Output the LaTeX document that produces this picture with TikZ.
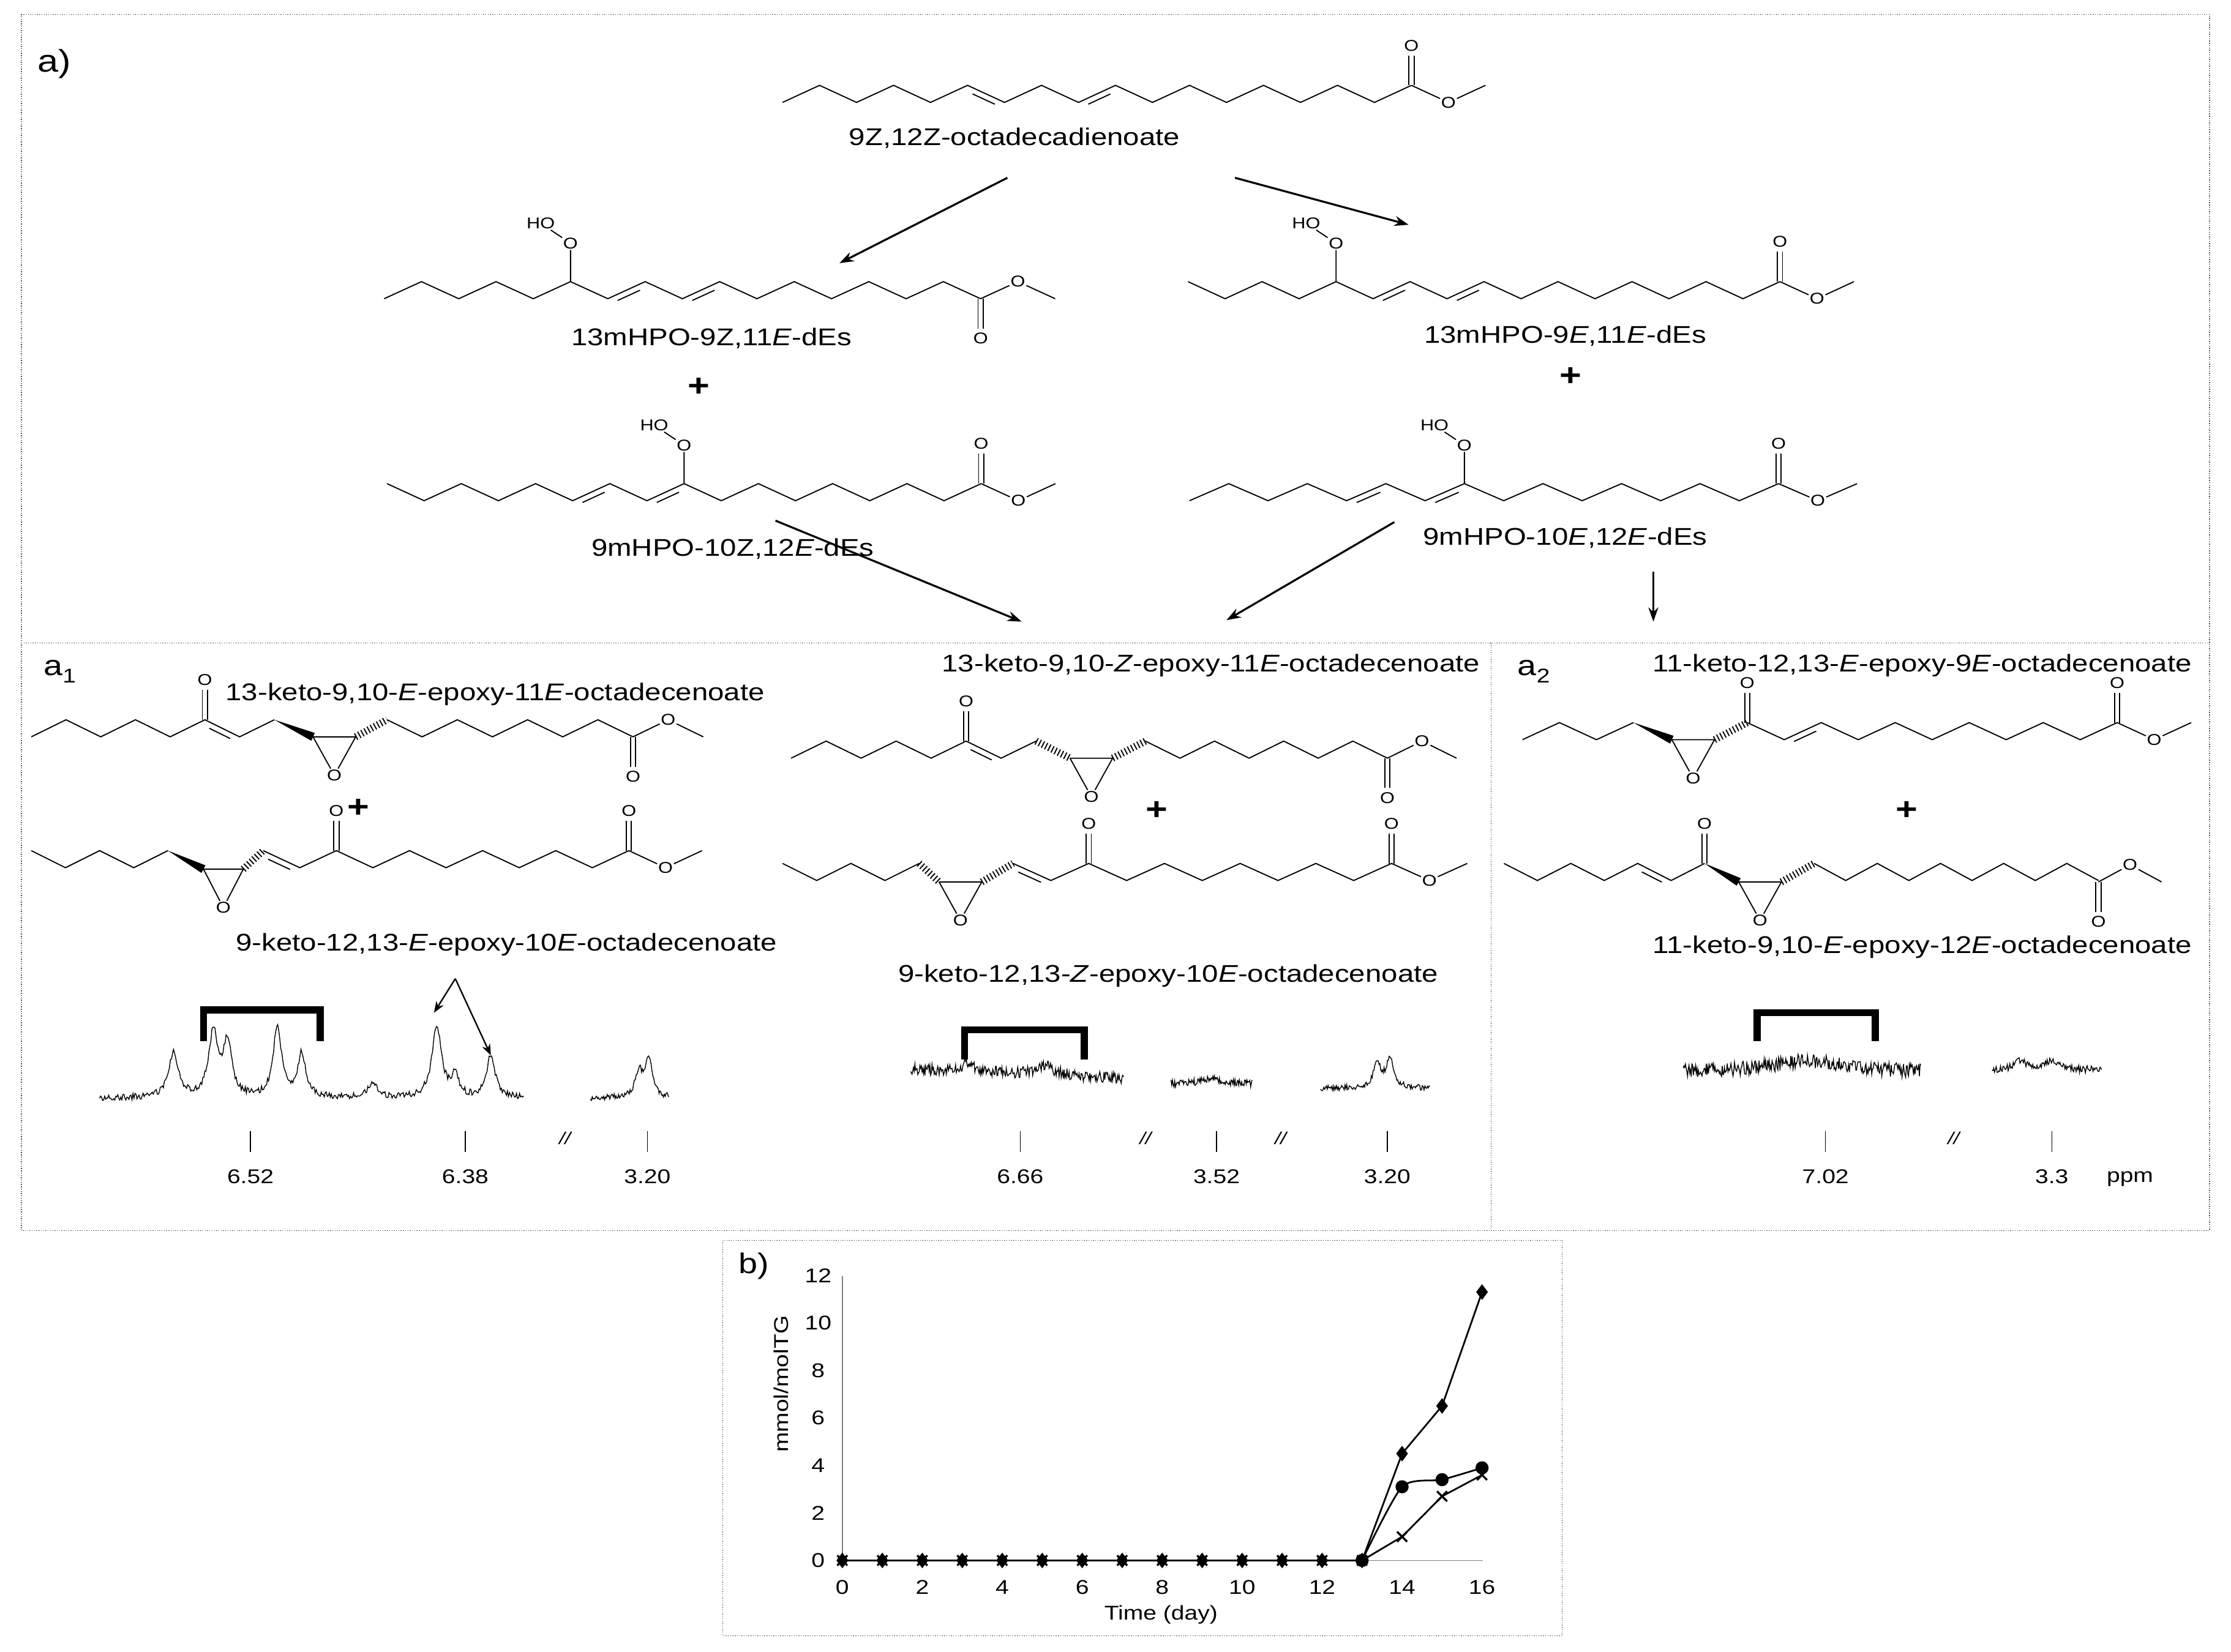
\documentclass[tikz,border=0pt]{standalone}
\usepackage{fontspec}
\setmainfont{Liberation Sans}[FakeStretch=1.2]
\usetikzlibrary{calc,arrows.meta,plotmarks}
\newcommand\zig[5]{\draw[bond] plot[samples at={0,...,#3}] ({#1+#5*\x},{#2+#4*12*mod(round(\x),2)});}
\newcommand\dbk[6]{\pgfmathsetmacro\ax{#1+#4*#5}\pgfmathsetmacro\ay{#2+#3*12*mod(#5,2)}%
 \pgfmathsetmacro\bx{#1+#4*(#5+1)}\pgfmathsetmacro\by{#2+#3*12*mod(#5+1,2)}\pgfmathsetmacro\angb{-(#6)}%
 \draw[bond] ($(\ax,\ay)!.2!(\bx,\by)!4pt!#6:(\bx,\by)$)--($(\bx,\by)!.2!(\ax,\ay)!4pt!\angb:(\ax,\ay)$);}
\newcommand\ester[4]{%
 \draw[bond] ({#1-1.8},{#2}) -- ({#1-1.8},{#2+#3*21}) ({#1+1.8},{#2})--({#1+1.8},{#2+#3*21});
 \node[atom] at ({#1},{#2+#3*28}) {O};
 \node[atom] (eo) at ({#1+#4},{#2-#3*12}) {O};
 \draw[bond] ({#1},{#2}) -- (eo) -- ({#1+2*#4},{#2});}
\newcommand\ooh[2]{\node[atom] (oo) at ({#1},{#2-27}) {O};\node[atom] (ho) at ({#1-21},{#2-41}) {HO};
 \draw[bond] ({#1},{#2}) -- (oo) -- (ho);}
\newcommand\keto[2]{\draw[bond] ({#1-1.8},{#2}) -- ({#1-1.8},{#2-21}) ({#1+1.8},{#2})--({#1+1.8},{#2-21});
 \node[atom] at ({#1},{#2-28}) {O};}
\newcommand\epox[3]{\node[atom] (eox) at ({#1+#3/2},{#2+27}) {O};
 \draw[bond] ({#1},{#2}) -- ({#1+#3},{#2}) -- (eox) -- ({#1},{#2});}
\newcommand\wdg[4]{\fill ({#1},{#2}) -- ($({#3},{#4})!3pt!90:({#1},{#2})$) -- ($({#3},{#4})!3pt!-90:({#1},{#2})$) -- cycle;}
\newcommand\hsh[4]{\draw[line width=5pt,dash pattern=on 0.8pt off 1.7pt] ({#1},{#2})--({#3},{#4});}
\newcommand\tick[2]{\draw[line width=0.6pt] ({#1},795)--({#1},810); \node[tk] at ({#1},{827}) {#2};}
\newcommand\brkm[1]{\node[font=\fontsize{12}{12}\selectfont\itshape] at (#1,800) {//};}
\begin{document}
\begin{tikzpicture}[x=1pt,y=-1pt,
 bond/.style={line width=0.8pt},
 lab/.style={font=\fontsize{17}{18}\selectfont,inner sep=0},
 atom/.style={font=\fontsize{11}{12}\selectfont,inner sep=0.6pt,fill=white},
 tk/.style={font=\fontsize{14}{15}\selectfont},
 plus/.style={font=\fontsize{22}{22}\selectfont\bfseries},
 box/.style={densely dotted,line width=0.6pt,black!70},
 rx/.style={-{Stealth[length=10pt,width=7pt]},line width=1.4pt},
 brk/.style={line width=5pt},
 spec/.style={line width=0.6pt},
 declare function={L(\t,\c,\w,\h)=\h/(1+((\t-\c)/\w)^2);}]
\useasboundingbox (0,0) rectangle (1568,1161);
\pgfmathsetseed{7}
% boxes
\draw[box] (15,10) rectangle (1553,865);
\draw[box] (15,452) -- (1553,452);
\draw[box] (1048,452) -- (1048,865);
\draw[box] (508,872) rectangle (1098,1150);
\node[font=\fontsize{22}{22}\selectfont] (la) at (38,45) {a)};
\node[font=\fontsize{20}{20}\selectfont] (la1) at (42,472) {a\raisebox{-5pt}{\fontsize{14}{14}\selectfont 1}};
\node[font=\fontsize{20}{20}\selectfont] (la2) at (1078,472) {a\raisebox{-5pt}{\fontsize{14}{14}\selectfont 2}};
\node[font=\fontsize{20}{20}\selectfont] (lb) at (530,890) {b)};
% M0
\zig{550}{72}{17}{-1}{26}\dbk{550}{72}{-1}{26}{5}{-90}\dbk{550}{72}{-1}{26}{8}{-90}
\ester{992}{60}{-1}{26}
\node[lab] (n0) at (713,97) {9Z,12Z-octadecadienoate};
% M1
\zig{270}{210}{16}{-1}{26.2}\dbk{270}{210}{-1}{26.2}{6}{-90}\dbk{270}{210}{-1}{26.2}{8}{-90}
\ester{689.2}{210}{1}{26.2}\ooh{401}{198}
\node[lab] (n1) at (500,238) {13mHPO-9Z,11\textit{E}-dEs};
\node[plus] (p1) at (491,272) {+};
% M2
\zig{272}{340}{16}{1}{26.1}\dbk{272}{340}{1}{26.1}{5}{-90}\dbk{272}{340}{1}{26.1}{7}{-90}
\ester{689.6}{340}{-1}{26.1}\ooh{480.8}{340}
\node[lab] (n2) at (515,386) {9mHPO-10Z,12\textit{E}-dEs};
% M3
\zig{835}{198}{16}{1}{26}\dbk{835}{198}{1}{26}{5}{-90}\dbk{835}{198}{1}{26}{7}{-90}
\ester{1251}{198}{-1}{26}\ooh{939}{198}
\node[lab] (n3) at (1100,236) {13mHPO-9\textit{E},11\textit{E}-dEs};
\node[plus] (p2) at (1104,265) {+};
% M4
\zig{836}{352}{15}{-1}{27.6}\dbk{836}{352}{-1}{27.6}{4}{-90}\dbk{836}{352}{-1}{27.6}{6}{-90}
\ester{1250}{340}{-1}{27.6}\ooh{1029.2}{340}
\node[lab] (n4) at (1100,378) {9mHPO-10\textit{E},12\textit{E}-dEs};
% arrows
\coordinate (a1s) at (708,125); \coordinate (a1e) at (590,185);
\coordinate (a2s) at (868,125); \coordinate (a2e) at (990,158);
\coordinate (a3s) at (545,366); \coordinate (a3e) at (718,437);
\coordinate (a4s) at (980,367); \coordinate (a4e) at (862,436);
\coordinate (a5s) at (1162,402); \coordinate (a5e) at (1162,437);
\draw[rx] (a1s)--(a1e); \draw[rx] (a2s)--(a2e); \draw[rx] (a3s)--(a3e);
\draw[rx] (a4s)--(a4e); \draw[rx] (a5s)--(a5e);
% M5
\zig{22}{518}{7}{-1}{24.4}\dbk{22}{518}{-1}{24.4}{5}{-90}\keto{144}{506}
\wdg{192.8}{506}{220}{518}\epox{220}{518}{30}\hsh{250}{518}{272}{506}
\zig{272}{506}{7}{1}{24.7}\ester{444.9}{518}{1}{24.7}
\node[lab] (n5) at (348,488) {13-keto-9,10-\textit{E}-epoxy-11\textit{E}-octadecenoate};
\node[plus] (p3) at (252,568) {+};
% M6
\zig{22}{598}{4}{1}{24}\wdg{118}{598}{143}{611}\epox{143}{611}{28}\hsh{171}{611}{185}{598}
\zig{185}{598}{10}{1}{25.7}\dbk{185}{598}{1}{25.7}{0}{-90}\keto{236.4}{598}
\ester{442}{598}{-1}{25.7}
\node[lab] (n6) at (356,664) {9-keto-12,13-\textit{E}-epoxy-10\textit{E}-octadecenoate};
% M7
\zig{556}{533}{7}{-1}{24.6}\dbk{556}{533}{-1}{24.6}{5}{-90}\keto{679}{521}
\hsh{728.2}{521}{752}{533}\epox{752}{533}{30}\hsh{782}{533}{805}{521}
\zig{805}{521}{7}{1}{24.3}\ester{975.1}{533}{1}{24.3}
\node[lab] (n7) at (851,468) {13-keto-9,10-\textit{Z}-epoxy-11\textit{E}-octadecenoate};
\node[plus] (p4) at (813,570) {+};
% M8
\zig{550}{607}{4}{1}{24}\hsh{646}{607}{660}{620}\epox{660}{620}{30}\hsh{690}{620}{712}{607}
\zig{712}{607}{10}{1}{26.6}\dbk{712}{607}{1}{26.6}{0}{-90}\keto{765.2}{607}
\ester{978}{607}{-1}{26.6}
\node[lab] (n8) at (821,686) {9-keto-12,13-\textit{Z}-epoxy-10\textit{E}-octadecenoate};
% M9
\zig{1070}{520}{3}{-1}{26}\wdg{1148}{508}{1175}{520}\epox{1175}{520}{30}\hsh{1205}{520}{1228}{508}
\keto{1228}{508}\zig{1228}{508}{10}{1}{26}\dbk{1228}{508}{1}{26}{1}{-90}
\ester{1488}{508}{-1}{26}
\node[lab] (n9) at (1351,468) {11-keto-12,13-\textit{E}-epoxy-9\textit{E}-octadecenoate};
\node[plus] (p5) at (1340,570) {+};
% M10
\zig{1057}{607}{6}{1}{23.5}\dbk{1057}{607}{1}{23.5}{4}{-90}\keto{1198}{607}
\wdg{1198}{607}{1222}{620}\epox{1222}{620}{30}\hsh{1252}{620}{1275}{607}
\zig{1275}{607}{9}{1}{22.2}\ester{1474.8}{620}{1}{22.2}
\node[lab] (n10) at (1351,666) {11-keto-9,10-\textit{E}-epoxy-12\textit{E}-octadecenoate};
% spectra a1
\draw[brk] (143,732)--(143,710)--(225,710)--(225,732);
\draw[spec] plot[domain=70:368,samples=420] (\x,{772-L(\x,122,4,32)-L(\x,150,4,45)-L(\x,160,3.5,38)-L(\x,195,3.5,50)-L(\x,212,3.5,30)-L(\x,262,4,10)-L(\x,307,4,50)-L(\x,320,3,15)-L(\x,345,3.5,30)+2.2*rand});
\draw[spec] plot[domain=415:470,samples=90] (\x,{772-L(\x,449,3,18)-L(\x,456,3,28)+2*rand});
\coordinate (ar0) at (320,688); \coordinate (ar1) at (305,712); \coordinate (ar2) at (345,742);
\draw[-{Stealth[length=8pt,width=6pt]},line width=1pt] (ar0)--(ar1);
\draw[-{Stealth[length=8pt,width=6pt]},line width=1pt] (ar0)--(ar2);
\tick{176}{6.52}
\tick{327}{6.38}
\tick{455}{3.20}
\brkm{397}
% spectra middle
\draw[brk] (678,745)--(678,724)--(762,724)--(762,745);
\draw[spec] plot[domain=640:790,samples=300] (\x,{752+0.04*(\x-640)-L(\x,680,6,6)-L(\x,735,8,6)+4*rand});
\draw[spec] plot[domain=823:880,samples=110] (\x,{762-L(\x,852,8,4)+2.5*rand});
\draw[spec] plot[domain=928:1005,samples=130] (\x,{765-L(\x,968,3,18)-L(\x,977,3,22)+2*rand});
\tick{717}{6.66}
\tick{855}{3.52}
\tick{975}{3.20}
\brkm{805}
\brkm{900}
% spectra a2
\draw[brk] (1235,732)--(1235,712)--(1318,712)--(1318,732);
\draw[spec] plot[domain=1183:1350,samples=330] (\x,{754-L(\x,1270,35,8)+5*rand});
\draw[spec] plot[domain=1400:1477,samples=130] (\x,{752-L(\x,1420,5,6)-L(\x,1442,5,6)+2.5*rand});
\tick{1283}{7.02}
\tick{1442}{3.3}
\brkm{1373}
\node[tk] (ppm) at (1497,829) {ppm};
% graph b
\draw[black!50,line width=0.6pt] (592,897)--(592,1097)--(1042,1097);
\foreach \d in {0,2,...,16}{\node[tk] at ({592+28.1*\d},1116) {\d};}
\foreach \v in {0,2,...,12}{\node[tk] at (575,{1097-16.7*\v}) {\v};}
\node[tk,rotate=90] (yl) at (549,973) {mmol/molTG};
\node[tk] (xl) at (816,1135) {Time (day)};
\draw[line width=1.2pt] plot[mark=diamond*,mark size=4.5pt] coordinates {(592,1097)(620.1,1097)(648.2,1097)(676.3,1097)(704.4,1097)(732.5,1097)(760.6,1097)(788.7,1097)(816.8,1097)(844.9,1097)(873,1097)(901.1,1097)(929.2,1097)(957.3,1097)(985.4,1021.9)(1013.5,988.4)(1041.6,908.3)};
\draw[line width=1.2pt] plot[smooth,tension=0.4,mark=*,mark size=4pt] coordinates {(957.3,1097)(985.4,1045.2)(1013.5,1040.2)(1041.6,1031.9)};
\draw[line width=1.2pt] plot[mark=x,mark size=5pt,mark options={line width=1.4pt}] coordinates {(592,1097)(620.1,1097)(648.2,1097)(676.3,1097)(704.4,1097)(732.5,1097)(760.6,1097)(788.7,1097)(816.8,1097)(844.9,1097)(873,1097)(901.1,1097)(929.2,1097)(957.3,1097)(985.4,1080.3)(1013.5,1051.9)(1041.6,1036.9)};
\foreach \d in {0,...,13}{\fill ({592+28.1*\d},1097) circle (3.5pt);}
\end{tikzpicture}
\end{document}
